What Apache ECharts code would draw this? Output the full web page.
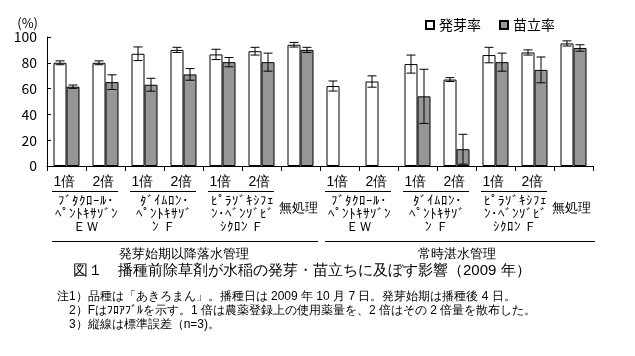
<!DOCTYPE html>
<html><head><meta charset="utf-8">
<script src="https://cdn.jsdelivr.net/npm/echarts@6/dist/echarts.min.js"></script>
<style>html,body{margin:0;padding:0;background:#fff}#c{width:635px;height:356px}</style>
</head><body><div id="c"></div>
<script>
const categories = ['a1','a2','b1','b2','c1','c2','u','d1','d2','e1','e2','f1','f2','v'];
const doseLabels = ['1倍','2倍','1倍','2倍','1倍','2倍','','1倍','2倍','1倍','2倍','1倍','2倍',''];
const germination = [80, 80, 87, 90, 86.5, 89, 94, 62, 65.5, 79, 67, 86, 88, 95];
const germErr     = [1.5, 1.5, 5.3, 2, 4, 3, 1.8, 3.9, 4.4, 7, 1.5, 6, 2, 2];
const standing    = [61.5, 65, 63, 71, 80.5, 80.5, 90, null, null, 54, 13, 80.5, 74.5, 91.5];
const standErr    = [1.3, 5.7, 5, 4.5, 3.6, 7, 2, null, null, 21, 11.6, 7, 10, 2.5];
const herbicides = [['ﾌﾞﾀｸﾛｰﾙ･','ﾍﾟﾝﾄｷｻｿﾞﾝ','ＥＷ'], ['ﾀﾞｲﾑﾛﾝ･','ﾍﾟﾝﾄｷｻｿﾞ','ﾝ Ｆ'], ['ﾋﾟﾗｿﾞｷｼﾌｪ','ﾝ･ﾍﾞﾝｿﾞﾋﾞ','ｼｸﾛﾝ Ｆ']];
const untreatedLabel = '無処理';
const managements = ['発芽始期以降落水管理', '常時湛水管理'];
const seriesNames = ['発芽率', '苗立率'];
const caption = '図１　播種前除草剤が水稲の発芽・苗立ちに及ぼす影響（2009 年）';
const notes = [
  '注1）品種は「あきろまん」。播種日は 2009 年 10 月 7 日。発芽始期は播種後 4 日。',
  '　2）Fはﾌﾛｱﾌﾞﾙを示す。1 倍は農薬登録上の使用薬量を、2 倍はその 2 倍量を散布した。',
  '　3）縦線は標準誤差（n=3)。'
];

const FONT = '"Noto Sans CJK JP", sans-serif';
const BW = 13;
const chart = echarts.init(document.getElementById('c'));

function errData(vals, errs) {
  const out = [];
  vals.forEach((v, i) => { if (v != null && errs[i] != null) out.push([i, v - errs[i], v + errs[i]]); });
  return out;
}
function errSeries(data, side) {
  return {
    type: 'custom', silent: true, z: 5,
    data: data,
    encode: { x: 0, y: [1, 2] },
    renderItem: function (params, api) {
      const x = api.coord([api.value(0), 0])[0] + side * BW / 2;
      const lo = api.coord([api.value(0), api.value(1)])[1];
      const hi = api.coord([api.value(0), api.value(2)])[1];
      const cw = 4.5;
      const st = { stroke: '#000', lineWidth: 1 };
      return { type: 'group', children: [
        { type: 'line', shape: { x1: x, y1: lo, x2: x, y2: hi }, style: st },
        { type: 'line', shape: { x1: x - cw, y1: hi, x2: x + cw, y2: hi }, style: st },
        { type: 'line', shape: { x1: x - cw, y1: lo, x2: x + cw, y2: lo }, style: st }
      ]};
    }
  };
}

chart.setOption({
  animation: false,
  textStyle: { fontFamily: FONT },
  grid: { left: 47, right: 42, top: 37, bottom: 190, containLabel: false },
  legend: {
    data: seriesNames, left: 420, top: 13, icon: 'rect', itemWidth: 8, itemHeight: 8, itemGap: 18,
    textStyle: { fontSize: 14, color: '#000', fontFamily: FONT }
  },
  xAxis: {
    type: 'category', data: categories,
    axisLine: { lineStyle: { color: '#000', width: 1 } },
    axisTick: { show: true, length: 5, lineStyle: { color: '#000' } },
    axisLabel: { show: false }
  },
  yAxis: {
    type: 'value', min: 0, max: 100, interval: 20,
    name: '(%)', nameLocation: 'end', nameGap: 7,
    nameTextStyle: { fontSize: 13, color: '#000', align: 'right', padding: [0, 9, 0, 0], fontFamily: FONT },
    axisLine: { show: true, lineStyle: { color: '#000' } },
    axisTick: { show: true, inside: true, length: 4, lineStyle: { color: '#000' } },
    axisLabel: { fontSize: 14, color: '#000', margin: 10, fontFamily: FONT },
    splitLine: { show: false }
  },
  series: [
    { name: seriesNames[0], type: 'bar', data: germination, barWidth: BW, barGap: '0%',
      itemStyle: { color: '#fff', borderColor: '#000', borderWidth: 1 } },
    { name: seriesNames[1], type: 'bar', data: standing, barWidth: BW,
      itemStyle: { color: '#969696', borderColor: '#000', borderWidth: 1 } },
    errSeries(errData(germination, germErr), -1),
    errSeries(errData(standing, standErr), 1)
  ]
});

function px(i) { return chart.convertToPixel({ xAxisIndex: 0 }, i); }
const y0 = chart.convertToPixel({ yAxisIndex: 0 }, 0);
const catW = px(1) - px(0);
const g = [];
function txt(x, y, s, size, align) {
  g.push({ type: 'text', x: x, y: y, style: { text: s, fontSize: size, fill: '#000', font: size + 'px ' + FONT, align: align || 'center', verticalAlign: 'middle' } });
}
function ln(x1, y1, x2, y2) {
  g.push({ type: 'line', shape: { x1: x1, y1: y1, x2: x2, y2: y2 }, style: { stroke: '#000', lineWidth: 1 } });
}
doseLabels.forEach((d, i) => { if (d) txt(px(i) - 2, y0 + 16, d, 14); });
for (let grp = 0; grp < 2; grp++) {
  const base = grp * 7;
  for (let k = 0; k < 3; k++) {
    const a = px(base + 2 * k), b = px(base + 2 * k + 1);
    ln(a - 14.5, y0 + 25.5, b + 12.5, y0 + 25.5);
    const cx = (a + b) / 2;
    herbicides[k].forEach((l, j) => txt(cx, y0 + 35 + j * 13, l, 13));
  }
  txt(px(base + 6) - 2, y0 + 42, untreatedLabel, 13);
  const left = px(base) - catW / 2, right = px(base + 6) + catW / 2;
  ln(left + 5, y0 + 75.5, right - 2 + grp * 4, y0 + 75.5);
  txt((left + right) / 2, y0 + 88, managements[grp], 13);
}
txt(73, 271, caption, 15, 'left');
notes.forEach((n, i) => txt(57, 297 + i * 14, n, 12, 'left'));
chart.setOption({ graphic: g });
</script>
</body></html>
